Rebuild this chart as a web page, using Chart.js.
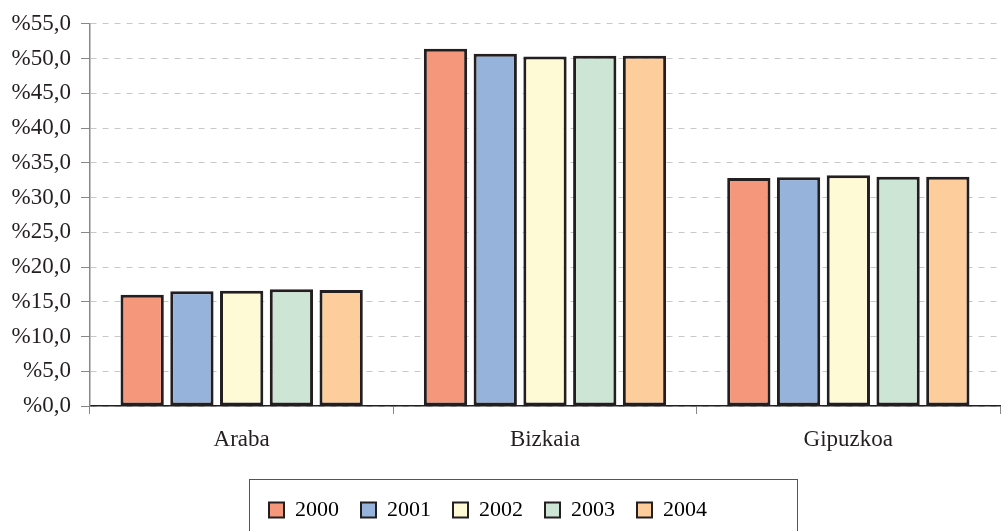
<!DOCTYPE html>
<html>
<head>
<meta charset="utf-8">
<script src="https://cdn.jsdelivr.net/npm/chart.js@4"></script>
<style>
  html, body { margin: 0; padding: 0; background: #fff; }
  #wrap { width: 1002px; height: 531px; }
</style>
</head>
<body>
<div id="wrap"><canvas id="grafico"></canvas></div>
<script>
// datos
const territorios = ["Araba", "Bizkaia", "Gipuzkoa"];
const anios = ["2000", "2001", "2002", "2003", "2004"];
const v2000 = [16.0, 51.4, 32.8];
const v2001 = [16.5, 50.7, 32.9];
const v2002 = [16.6, 50.3, 33.2];
const v2003 = [16.8, 50.4, 33.0];
const v2004 = [16.7, 50.4, 33.0];
const yTicks = [0, 5, 10, 15, 20, 25, 30, 35, 40, 45, 50, 55];

const colores = ["#F5977A", "#95B3DB", "#FFFAD6", "#CDE5D4", "#FDCD9B"];
const series = [v2000, v2001, v2002, v2003, v2004];

const fuente = "Liberation Serif";
const desplazLeyenda = -15;

// leyenda algo a la izquierda y con marco, como en el original
const marcoLeyenda = {
  id: "marcoLeyenda",
  afterLayout(chart) {
    const lg = chart.legend;
    lg.left += desplazLeyenda;
    lg.right += desplazLeyenda;
    (lg.legendHitBoxes || []).forEach(b => { b.left += desplazLeyenda; });
  },
  afterDraw(chart) {
    const boxes = chart.legend.legendHitBoxes;
    if (!boxes || !boxes.length) return;
    const ctx = chart.ctx;
    const ultimo = boxes[boxes.length - 1];
    const izq = boxes[0].left - 20;
    const der = ultimo.left + ultimo.width + 90;
    const arriba = boxes[0].top - 20;
    ctx.save();
    ctx.strokeStyle = "#555";
    ctx.lineWidth = 1;
    ctx.strokeRect(Math.round(izq) + 0.5, Math.round(arriba) + 0.5, Math.round(der - izq), 80);
    ctx.restore();
  }
};

new Chart(document.getElementById("grafico").getContext("2d"), {
  type: "bar",
  data: {
    labels: territorios,
    datasets: anios.map((a, i) => ({
      label: a,
      data: series[i],
      backgroundColor: colores[i],
      borderColor: "#231f20",
      borderWidth: 3,
      borderSkipped: false,
      barPercentage: 0.87,
      categoryPercentage: 0.82
    }))
  },
  options: {
    responsive: true,
    maintainAspectRatio: false,
    animation: false,
    layout: { padding: { left: 6, right: 2, top: 15, bottom: 0 } },
    plugins: {
      tooltip: { enabled: false },
      legend: {
        position: "bottom",
        labels: {
          color: "#231f20",
          boxWidth: 15,
          boxHeight: 15,
          padding: 22,
          font: { family: fuente, size: 22 },
          generateLabels(chart) {
            return chart.data.datasets.map((d, i) => ({
              text: d.label,
              fillStyle: d.backgroundColor,
              strokeStyle: "#231f20",
              lineWidth: 2,
              datasetIndex: i
            }));
          }
        }
      }
    },
    scales: {
      x: {
        offset: true,
        grid: {
          offset: true,
          drawOnChartArea: false,
          color: "#888",
          tickLength: 8
        },
        border: { color: "#231f20", width: 1.5 },
        ticks: {
          color: "#231f20",
          padding: 12,
          font: { family: fuente, size: 23 }
        },
        afterFit(scale) { scale.height = 71; }
      },
      y: {
        min: 0,
        max: 55,
        afterBuildTicks(scale) { scale.ticks = yTicks.map(v => ({ value: v })); },
        afterFit(scale) { scale.width = 84; },
        grid: {
          color: "#c8c8c8",
          tickColor: "#888",
          tickLength: 9,
          tickBorderDash: [0, 0]
        },
        border: { color: "#888", width: 1.5, dash: [6, 6] },
        ticks: {
          color: "#231f20",
          padding: 10,
          font: { family: fuente, size: 23 },
          callback: v => "%" + v.toFixed(1).replace(".", ",")
        }
      }
    }
  },
  plugins: [marcoLeyenda]
});
</script>
</body>
</html>
